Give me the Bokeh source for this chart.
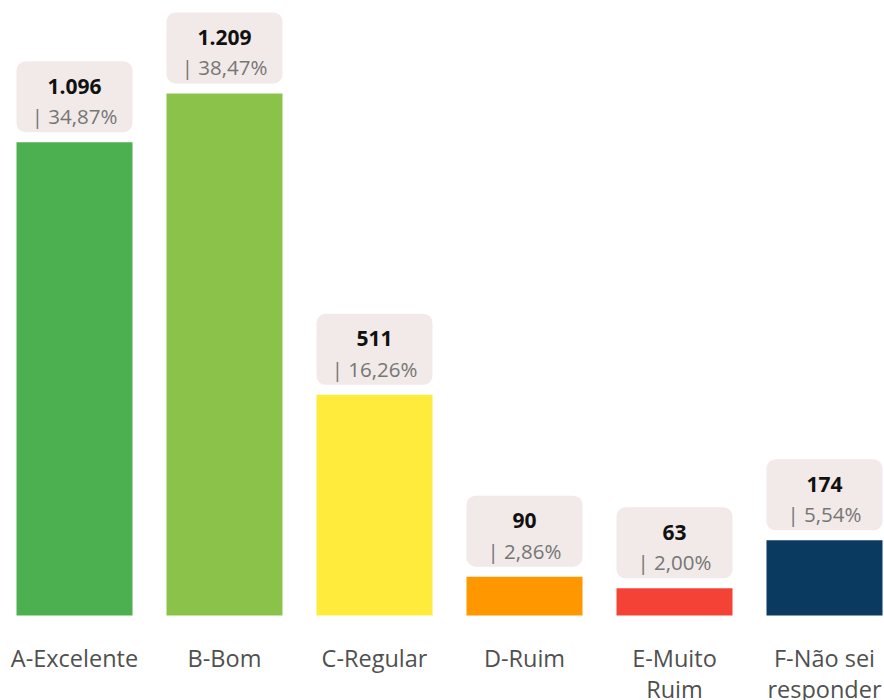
from bokeh.plotting import figure
from bokeh.models import Range1d, ColumnDataSource
from bokeh.core.properties import value
from bokeh.embed import file_html
from bokeh.resources import INLINE

categories = ["A-Excelente", "B-Bom", "C-Regular", "D-Ruim", "E-Muito\nRuim", "F-Não sei\nresponder"]
counts = [1096, 1209, 511, 90, 63, 174]
count_labels = ["1.096", "1.209", "511", "90", "63", "174"]
pct_labels = ["| 34,87%", "| 38,47%", "| 16,26%", "| 2,86%", "| 2,00%", "| 5,54%"]
colors = ["#4caf50", "#8bc34a", "#ffeb3b", "#ff9800", "#f44336", "#0a3a60"]

W, H = 884, 700
PX = 0.4318          # pixels per unit value
BASE = 615           # baseline pixel from top
STEP = 150           # pixels per category
X0 = 74              # first bar center pixel

u = 1.0 / PX
xs = list(range(len(counts)))
line1 = [c.split("\n")[0] for c in categories]
line2 = [c.split("\n")[1] if "\n" in c else "" for c in categories]

src = ColumnDataSource(dict(
    x=xs, top=counts, color=colors,
    box_bottom=[c + 10 * u for c in counts],
    box_top=[c + 81 * u for c in counts],
    cnt_y=[c + 56 * u for c in counts],
    pct_y=[c + 26 * u for c in counts],
    cnt=count_labels, pct=pct_labels,
    l1=line1, l2=line2,
    l1_y=[-42 * u] * len(counts),
    l2_y=[-73 * u] * len(counts),
))

p = figure(width=W, height=H, output_backend="svg", toolbar_location=None,
           x_range=Range1d(-X0 / STEP, (W - X0) / STEP),
           y_range=Range1d(-(H - BASE) * u, BASE * u),
           min_border=0, outline_line_color=None)
p.axis.visible = False
p.grid.visible = False
p.background_fill_color = "white"
p.border_fill_color = "white"

p.vbar(x="x", top="top", bottom=0, width=116 / STEP, color="color", line_color=None, source=src)
p.vbar(x="x", top="box_top", bottom="box_bottom", width=116 / STEP, fill_color="#f1eae8",
       line_color=None, border_radius=9, source=src)

p.text(x="x", y="cnt_y", text="cnt", text_align="center", text_baseline="middle",
       text_font=value("Open Sans"), text_font_style="bold", text_font_size="21px",
       text_color="#111111", source=src)
p.text(x="x", y="pct_y", text="pct", text_align="center", text_baseline="middle",
       text_font=value("Open Sans"), text_font_size="20.5px",
       text_color="#767676", source=src)
p.text(x="x", y="l1_y", text="l1", text_align="center", text_baseline="middle",
       text_font=value("Open Sans"), text_font_size="23.5px",
       text_color="#505050", source=src)
p.text(x="x", y="l2_y", text="l2", text_align="center", text_baseline="middle",
       text_font=value("Open Sans"), text_font_size="23.5px",
       text_color="#505050", source=src)

open("out.html", "w").write(file_html(p, INLINE))
